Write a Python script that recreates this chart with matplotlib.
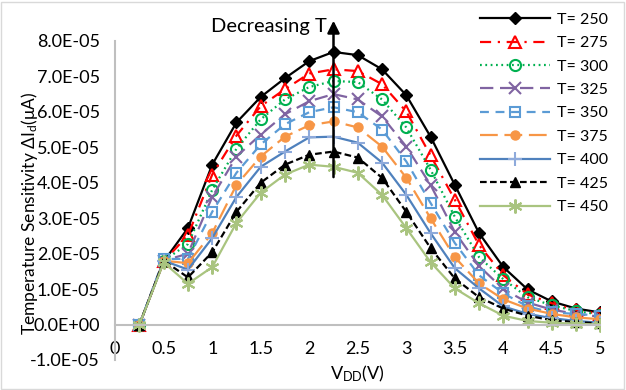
import matplotlib.pyplot as plt
from matplotlib.patches import Rectangle

plt.rcParams['font.family'] = ['Lato', 'DejaVu Sans']

# data (values in units of 1e-5)
vdd = [0.25, 0.5, 0.75, 1.0, 1.25, 1.5, 1.75, 2.0, 2.25, 2.5,
       2.75, 3.0, 3.25, 3.5, 3.75, 4.0, 4.25, 4.5, 4.75, 5.0]
t250 = [0, 1.78, 2.72, 4.51, 5.70, 6.42, 6.95, 7.43, 7.69, 7.60,
        7.20, 6.47, 5.30, 3.94, 2.58, 1.62, 0.99, 0.65, 0.45, 0.34]
t275 = [0, 1.78, 2.52, 4.23, 5.33, 6.16, 6.64, 7.08, 7.20, 7.15,
        6.78, 6.01, 4.77, 3.52, 2.24, 1.39, 0.85, 0.60, 0.40, 0.30]
t300 = [0, 1.80, 2.27, 3.80, 4.96, 5.79, 6.35, 6.70, 6.87, 6.84,
        6.35, 5.56, 4.37, 3.04, 1.90, 1.28, 0.77, 0.54, 0.38, 0.28]
t325 = [0, 1.80, 2.00, 3.60, 4.74, 5.36, 5.93, 6.30, 6.50, 6.35,
        5.87, 5.02, 3.94, 2.61, 1.65, 1.00, 0.62, 0.42, 0.30, 0.22]
t350 = [0, 1.85, 1.85, 3.18, 4.28, 5.08, 5.65, 5.99, 6.13, 5.99,
        5.50, 4.60, 3.43, 2.30, 1.39, 0.88, 0.51, 0.34, 0.30, 0.25]
t375 = [0, 1.80, 1.73, 2.58, 3.94, 4.74, 5.30, 5.62, 5.73, 5.56,
        5.02, 4.14, 3.00, 1.90, 1.16, 0.71, 0.45, 0.30, 0.20, 0.15]
t400 = [0, 1.80, 1.55, 2.44, 3.60, 4.45, 4.88, 5.28, 5.30, 5.13,
        4.57, 3.66, 2.58, 1.59, 1.02, 0.51, 0.30, 0.18, 0.10, 0.05]
t425 = [0, 1.80, 1.33, 2.04, 3.18, 4.00, 4.51, 4.79, 4.88, 4.71,
        4.14, 3.18, 2.16, 1.30, 0.77, 0.45, 0.25, 0.12, 0.07, 0.03]
t450 = [0, 1.75, 1.15, 1.62, 2.87, 3.72, 4.23, 4.51, 4.45, 4.28,
        3.66, 2.72, 1.76, 1.02, 0.60, 0.25, 0.10, 0.05, 0.02, 0.0]
labels = ['T= 250', 'T= 275', 'T= 300', 'T= 325', 'T= 350',
          'T= 375', 'T= 400', 'T= 425', 'T= 450']
yticks = [-1, 0, 1, 2, 3, 4, 5, 6, 7, 8]
xticks = [0, 0.5, 1, 1.5, 2, 2.5, 3, 3.5, 4, 4.5, 5]

series = [t250, t275, t300, t325, t350, t375, t400, t425, t450]
styles = [
    dict(color='black', ls='-', marker='D', ms=6, mfc='black', mec='black'),
    dict(color='red', ls=(0, (5, 3, 1, 3)), marker='^', ms=8, mfc='none', mec='red', mew=1.5),
    dict(color='#00b050', ls=(0, (0.8, 1.6)), marker='o', ms=8, mfc='none', mec='#00b050', mew=1.5),
    dict(color='#8064a2', ls=(0, (6, 3)), marker='x', ms=8, mec='#8064a2', mew=1.5),
    dict(color='#5b9bd5', ls=(0, (4, 3)), marker='s', ms=7, mfc='none', mec='#5b9bd5', mew=1.5),
    dict(color='#f79646', ls=(0, (8, 3)), marker='o', ms=6.5, mfc='#f79646', mec='#f79646'),
    dict(color='#4f81bd', ls='-', marker='+', ms=10, mec='#8eaadb', mew=1.5),
    dict(color='black', ls=(0, (3, 1.5)), marker='^', ms=7, mfc='black', mec='black'),
    dict(color='#a9c47f', ls='-', marker=(6, 2, 0), ms=10, mec='#a9c47f', mew=1.5),
]

fig = plt.figure(figsize=(6.26, 3.9), dpi=100)
ax = fig.add_axes([0.184, 0.077, 0.775, 0.818])

for vals, lab, st in zip(series, labels, styles):
    ax.plot(vdd, [v * 1e-5 for v in vals], lw=1.6, label=lab, **st)

ax.set_xlim(0, 5)
ax.set_ylim(-1e-5, 8e-5)
ax.set_xticks(xticks)
ax.set_xticklabels(['0', '0.5', '1', '1.5', '2', '2.5', '3', '3.5', '4', '4.5', '5'])
ax.set_yticks([v * 1e-5 for v in yticks])
ax.set_yticklabels(['-1.0E-05', '0.0E+00', '1.0E-05', '2.0E-05', '3.0E-05', '4.0E-05',
                    '5.0E-05', '6.0E-05', '7.0E-05', '8.0E-05'])
ax.spines['top'].set_visible(False)
ax.spines['right'].set_visible(False)
ax.spines['bottom'].set_position(('data', 0))
for s in ('left', 'bottom'):
    ax.spines[s].set_color('#bfbfbf')
    ax.spines[s].set_linewidth(1.5)
ax.tick_params(axis='both', length=0, labelsize=13)
ax.tick_params(axis='x', pad=12)
ax.tick_params(axis='y', pad=11)

ax.set_ylabel('Temperature Sensitivity $\\mathregular{\\Delta I_d(\\mu A)}$', fontsize=12.5)
ax.yaxis.set_label_coords(-0.156, 0.46)
ax.set_xlabel('$\\mathregular{V_{DD}(V)}$', fontsize=13)
ax.xaxis.set_label_coords(0.5, -0.012)

# arrow
ax.annotate('', xy=(2.25, 8.65e-5), xytext=(2.25, 4.08e-5),
            arrowprops=dict(arrowstyle='-|>', color='black', lw=1.8, mutation_scale=18),
            annotation_clip=False)
ax.text(2.18, 8.4e-5, 'Decreasing T', ha='right', va='center', fontsize=14.5, clip_on=False)

leg = ax.legend(loc='upper right', bbox_to_anchor=(0.972, 0.968), bbox_transform=fig.transFigure,
                frameon=False, fontsize=11.5, handlelength=4.4, labelspacing=0.58,
                borderaxespad=0, borderpad=0, handletextpad=0.45)

fig.patches.append(Rectangle((0.002, 0.003), 0.995, 0.993, transform=fig.transFigure,
                             fill=False, ec='#d9d9d9', lw=1))

fig.savefig('out.png', dpi=100)
